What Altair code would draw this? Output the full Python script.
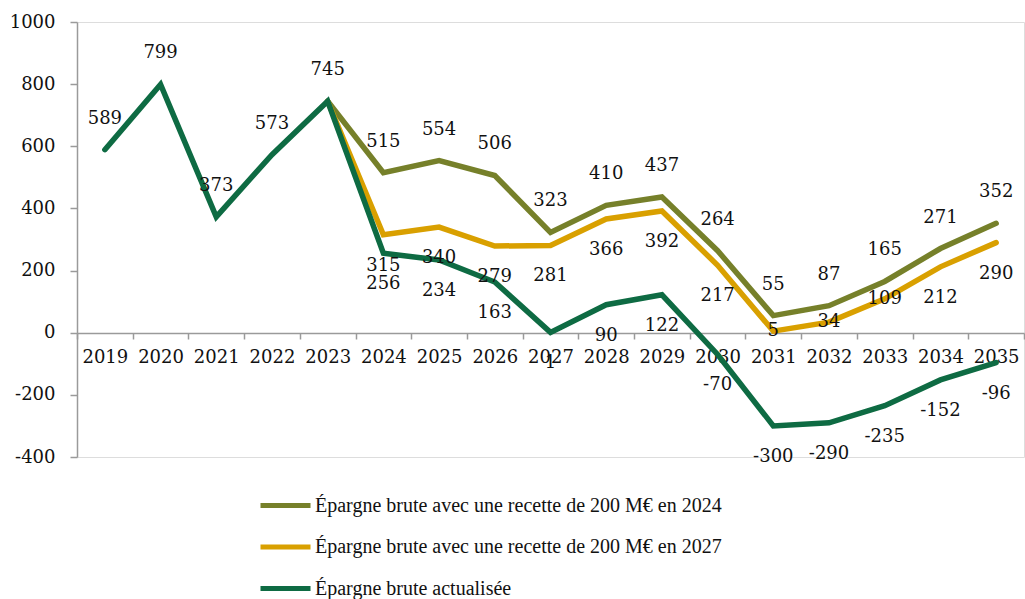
import altair as alt
import pandas as pd

years = [str(y) for y in range(2019, 2036)]

# Gross savings series (M€)
actualisee = [589, 799, 373, 573, 745, 256, 234, 163, 1, 90, 122, -70, -300, -290, -235, -152, -96]
recette_2024 = [745, 515, 554, 506, 323, 410, 437, 264, 55, 87, 165, 271, 352]
recette_2027 = [745, 315, 340, 279, 281, 366, 392, 217, 5, 34, 109, 212, 290]

s_2024 = "Épargne brute avec une recette de 200 M€ en 2024"
s_2027 = "Épargne brute avec une recette de 200 M€ en 2027"
s_act = "Épargne brute actualisée"

series_names = [s_2024, s_2027, s_act]
series_colors = ["#76802A", "#D9A000", "#0E6B43"]

rows = []
for y, v in zip(years[4:], recette_2024):
    rows.append({"annee": y, "valeur": v, "serie": s_2024, "ordre": 0})
for y, v in zip(years[4:], recette_2027):
    rows.append({"annee": y, "valeur": v, "serie": s_2027, "ordre": 1})
for y, v in zip(years, actualisee):
    rows.append({"annee": y, "valeur": v, "serie": s_act, "ordre": 2})
df = pd.DataFrame(rows)
df["an"] = df["annee"].astype(int)
df["etiquette"] = df["valeur"].astype(str)

FONT = "DejaVu Serif"
FS = 18
LEGEND_FONT = "Liberation Serif"

x_enc = alt.X(
    "annee:O",
    scale=alt.Scale(type="band", domain=years, paddingInner=0, paddingOuter=0),
    axis=alt.Axis(
        title=None, labelAngle=0, tickBand="extent", offset=-124,
        domainColor="#9a9a9a", tickColor="#9a9a9a", domainWidth=1.5, tickWidth=1.5,
        tickSize=6, labelPadding=9, labelFont=FONT, labelFontSize=FS, labelColor="#111",
    ),
)
y_enc = alt.Y(
    "valeur:Q",
    scale=alt.Scale(domain=[-400, 1000], nice=False, zero=False),
    axis=alt.Axis(
        title=None, values=list(range(-400, 1001, 200)), grid=False,
        labelExpr="toString(datum.value)",
        domainColor="#9a9a9a", tickColor="#9a9a9a", domainWidth=1.5, tickWidth=1.5,
        tickSize=7, labelPadding=15, labelFont=FONT, labelFontSize=FS, labelColor="#111",
    ),
)
color_enc = alt.Color(
    "serie:N",
    scale=alt.Scale(domain=series_names, range=series_colors),
    legend=alt.Legend(
        title=None, orient="none", legendX=181, legendY=456, direction="vertical",
        symbolType="stroke", symbolStrokeWidth=5, symbolSize=2500,
        labelFont=LEGEND_FONT, labelFontSize=20, labelColor="#111",
        rowPadding=3.5, padding=0, labelOffset=2, labelLimit=700,
    ),
)

base = alt.Chart(df)

lines = base.mark_line(strokeWidth=5.5, strokeJoin="miter", strokeCap="round").encode(
    x=x_enc, y=y_enc, color=color_enc, order="ordre:Q", detail="serie:N"
)

txt = dict(font=FONT, fontSize=FS, color="#111")


def labels(cond, dy):
    return base.transform_filter(cond).mark_text(dy=dy, **txt).encode(
        x=x_enc, y=y_enc, text="etiquette:N"
    )


proj = alt.datum.an > 2023
low_2027 = (alt.datum.an >= 2031) & (alt.datum.an <= 2033)

lab_2024 = labels((alt.datum.serie == s_2024) & proj, -31)
lab_2027 = labels((alt.datum.serie == s_2027) & proj & ~low_2027, 31)
lab_2027_low = labels((alt.datum.serie == s_2027) & low_2027, 0)
lab_act_hist = labels((alt.datum.serie == s_act) & ~proj, -31)
lab_act_proj = labels((alt.datum.serie == s_act) & proj, 31)

chart = (
    alt.layer(lines, lab_2024, lab_2027, lab_2027_low, lab_act_hist, lab_act_proj)
    .properties(width=947, height=435,
                padding={"left": 77, "top": 22, "right": 1, "bottom": 142})
    .configure_view(stroke=None)
    .configure(background="white", autosize=alt.AutoSizeParams(type="none"))
)

chart.save("out.html", embed_options={"renderer": "svg", "actions": False})
